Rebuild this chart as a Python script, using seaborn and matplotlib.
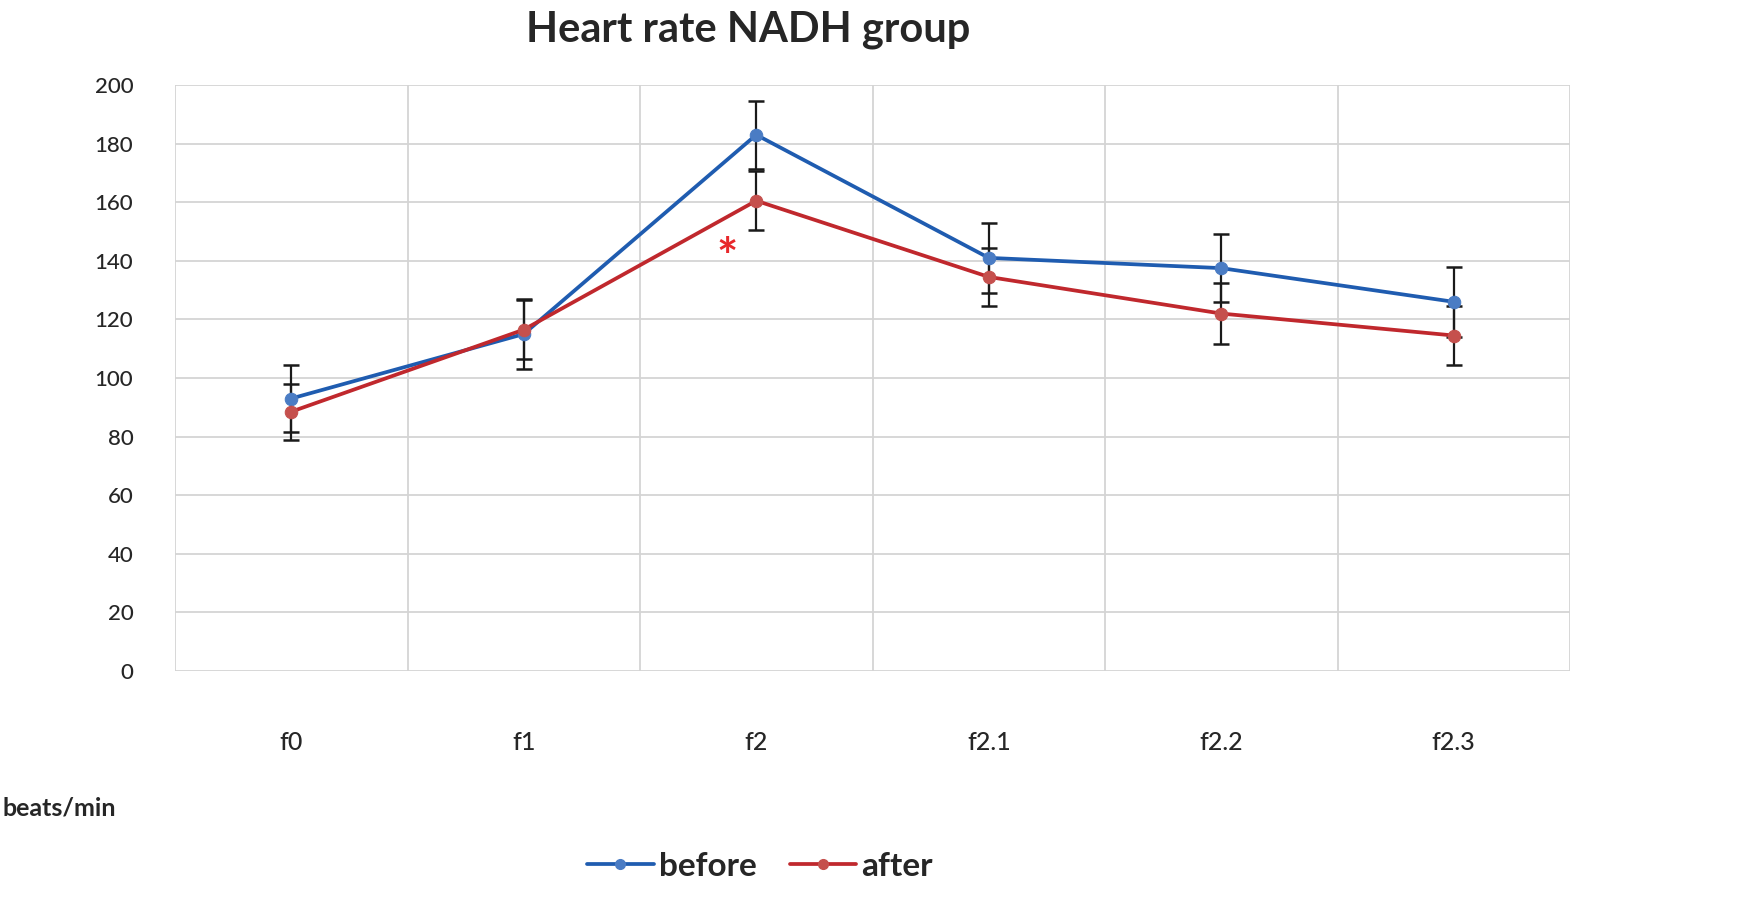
import matplotlib
matplotlib.use("Agg")
import matplotlib.pyplot as plt
import seaborn as sns
import pandas as pd
import numpy as np

categories = ["f0", "f1", "f2", "f2.1", "f2.2", "f2.3"]
before = [93, 115, 183, 141, 137.5, 126]
before_err = [11.5, 12, 11.5, 12, 11.5, 12]
after = [88.5, 116.5, 160.5, 134.5, 122, 114.5]
after_err = [9.5, 10, 10, 10, 10.5, 10]
series_names = ["before", "after"]
yticks = [0, 20, 40, 60, 80, 100, 120, 140, 160, 180, 200]
star_pos = (1.875, 140.5)

sns.set_theme(style="white")
plt.rcParams['font.family'] = ['Lato', 'DejaVu Sans']

df = pd.DataFrame({
    "cat": categories * 2,
    "x": list(range(len(categories))) * 2,
    "value": before + after,
    "series": [series_names[0]] * len(categories) + [series_names[1]] * len(categories),
})

fig = plt.figure(figsize=(17.55, 9), dpi=100)
ax = fig.add_axes([175/1755, 1 - 671/900, (1570-175)/1755, (671-85)/900])

line_colors = {"before": "#1f5cb0", "after": "#c0282d"}
marker_colors = {"before": "#4a7cc4", "after": "#c5504d"}

# error bars
xs = np.arange(len(categories))
ax.errorbar(xs, before, yerr=before_err, fmt='none', ecolor='#1a1a1a', elinewidth=1.6, capsize=5.5, capthick=1.8, zorder=2)
ax.errorbar(xs, after, yerr=after_err, fmt='none', ecolor='#1a1a1a', elinewidth=1.6, capsize=5.5, capthick=1.8, zorder=2)

sns.lineplot(data=df, x="x", y="value", hue="series", palette=line_colors,
             marker="o", markersize=9, linewidth=2.7, ax=ax, legend=False, zorder=3)
for line, name in zip(ax.get_lines()[-2:], series_names):
    line.set_markerfacecolor(marker_colors[name])
    line.set_markeredgecolor(marker_colors[name])

ax.set_xlim(-0.5, len(categories) - 0.5)
ax.set_ylim(0, 200)
ax.set_yticks(yticks)
ax.set_xticks(xs)
ax.set_xticklabels(categories)
ax.set_xticks(np.arange(-0.5, len(categories)), minor=True)
ax.grid(False)
ax.yaxis.grid(True, color="#d4d4d4", linewidth=1.3)
ax.xaxis.grid(True, which="minor", color="#d4d4d4", linewidth=1.3)
ax.set_axisbelow(True)
for s in ax.spines.values():
    s.set_visible(False)
ax.tick_params(axis="x", which="both", length=0, pad=43, labelsize=18)
ax.tick_params(axis="y", length=0, pad=30, labelsize=16)
for lbl in ax.get_xticklabels() + ax.get_yticklabels():
    lbl.set_fontweight("medium")
ax.set_xlabel("")
ax.set_ylabel("")

ax.text(star_pos[0], star_pos[1], "*", color="#e8282b", fontsize=36, fontweight="bold",
        ha="center", va="center")

fig.text(748/1755, 1 - 30/900, "Heart rate NADH group", ha="center", va="center",
         fontsize=30, fontweight="bold")
fig.text(2/1755, 1 - 808/900, "beats/min", ha="left", va="center", fontsize=18, fontweight="bold")

from matplotlib.lines import Line2D
handles = [Line2D([0], [0], color=line_colors[n], lw=2.7, marker="o", markersize=7,
                  markerfacecolor=marker_colors[n], markeredgecolor=marker_colors[n]) for n in series_names]
fig.legend(handles, series_names, loc="center", bbox_to_anchor=(760/1755, 1 - 866/900), ncol=2,
           frameon=False, prop={"size": 24, "weight": "bold"}, handlelength=2.0,
           handletextpad=0.15, columnspacing=1.0)

fig.savefig("out.png", dpi=100)
